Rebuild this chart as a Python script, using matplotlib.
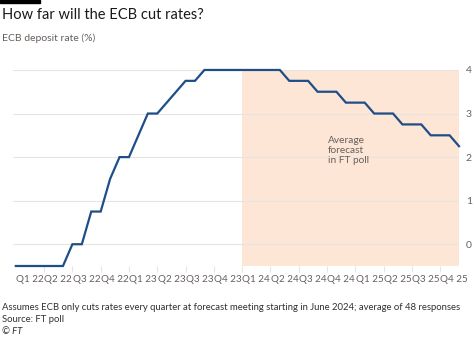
import numpy as np
import matplotlib
matplotlib.use('Agg')
from matplotlib import pyplot as plt

plt.rcParams['font.family'] = ['Lato', 'DejaVu Sans']

# monthly deposit rate, Jan 2022 .. Dec 2025 (forecast from Jan 2024)
months = np.arange(48)
rate = [-0.5, -0.5, -0.5, -0.5, -0.5, -0.5,
        0.0, 0.0, 0.75, 0.75, 1.5, 2.0,
        2.0, 2.5, 3.0, 3.0, 3.25, 3.5, 3.75, 3.75, 4.0, 4.0, 4.0, 4.0,
        4.0, 4.0, 4.0, 4.0, 4.0, 3.75, 3.75, 3.75, 3.5, 3.5, 3.5, 3.25,
        3.25, 3.25, 3.0, 3.0, 3.0, 2.75, 2.75, 2.75, 2.5, 2.5, 2.5, 2.25]
quarter_labels = ['Q1 22', 'Q2 22', 'Q3 22', 'Q4 22', 'Q1 23', 'Q2 23', 'Q3 23', 'Q4 23',
                  'Q1 24', 'Q2 24', 'Q3 24', 'Q4 24', 'Q1 25', 'Q2 25', 'Q3 25', 'Q4 25']
y_ticks = [0, 1, 2, 3, 4]
forecast_start = 24
forecast_end = 47

grey = '#66605c'
grid_c = '#e9e4df'

fig = plt.figure(figsize=(4.74, 3.38), dpi=100)
ax = fig.add_axes([0.0264, 0.213, 0.942, 0.580])

ax.axvspan(forecast_start, forecast_end, color='#fde6d6', lw=0, zorder=0)
for y in y_ticks:
    ax.axhline(y, color=grid_c, lw=0.8, zorder=1)
ax.plot(months, rate, color='#1e4e88', lw=1.6, zorder=3, clip_on=False,
        solid_joinstyle='miter')

ax.set_xlim(-0.35, 47)
ax.set_ylim(-0.5, 4)

ax.set_xticks(np.arange(3, 47, 3))
ax.set_xticks(np.arange(len(quarter_labels)) * 3 + 1.5, minor=True)
ax.set_xticklabels([])
ax.set_xticklabels(quarter_labels, minor=True)
ax.tick_params(axis='x', which='major', length=4, color=grid_c, width=0.8)
ax.tick_params(axis='x', which='minor', length=0, pad=6.5, labelsize=7.1, labelcolor=grey)

ax.yaxis.tick_right()
ax.set_yticks(y_ticks)
ax.tick_params(axis='y', length=0, pad=5, labelsize=7.5, labelcolor=grey)

for s in ax.spines.values():
    s.set_visible(False)

ax.text(33.1, 2.48, 'Average\nforecast\nin FT poll', fontsize=7.3, color=grey,
        va='top', ha='left', linespacing=1.15)

# header and footer
fig.patches.append(plt.Rectangle((0, 1 - 3 / 338), 40 / 474, 3 / 338,
                                 transform=fig.transFigure, color='black'))
fig.text(0.004, 1 - 15 / 338, 'How far will the ECB cut rates?', fontsize=10.5,
         color='#1a1a1a', va='center', ha='left')
fig.text(0.004, 1 - 38 / 338, 'ECB deposit rate (%)', fontsize=7.5,
         color=grey, va='center', ha='left')
fig.text(0.004, 1 - 308 / 338,
         'Assumes ECB only cuts rates every quarter at forecast meeting starting in June 2024; average of 48 responses',
         fontsize=6.8, color='#33302e', va='center', ha='left')
fig.text(0.004, 1 - 320 / 338, 'Source: FT poll', fontsize=6.8,
         color='#33302e', va='center', ha='left')
fig.text(0.004, 1 - 332 / 338, '\u00a9 FT', fontsize=6.8, style='italic',
         color='#33302e', va='center', ha='left')

fig.savefig('out.png', dpi=100)
